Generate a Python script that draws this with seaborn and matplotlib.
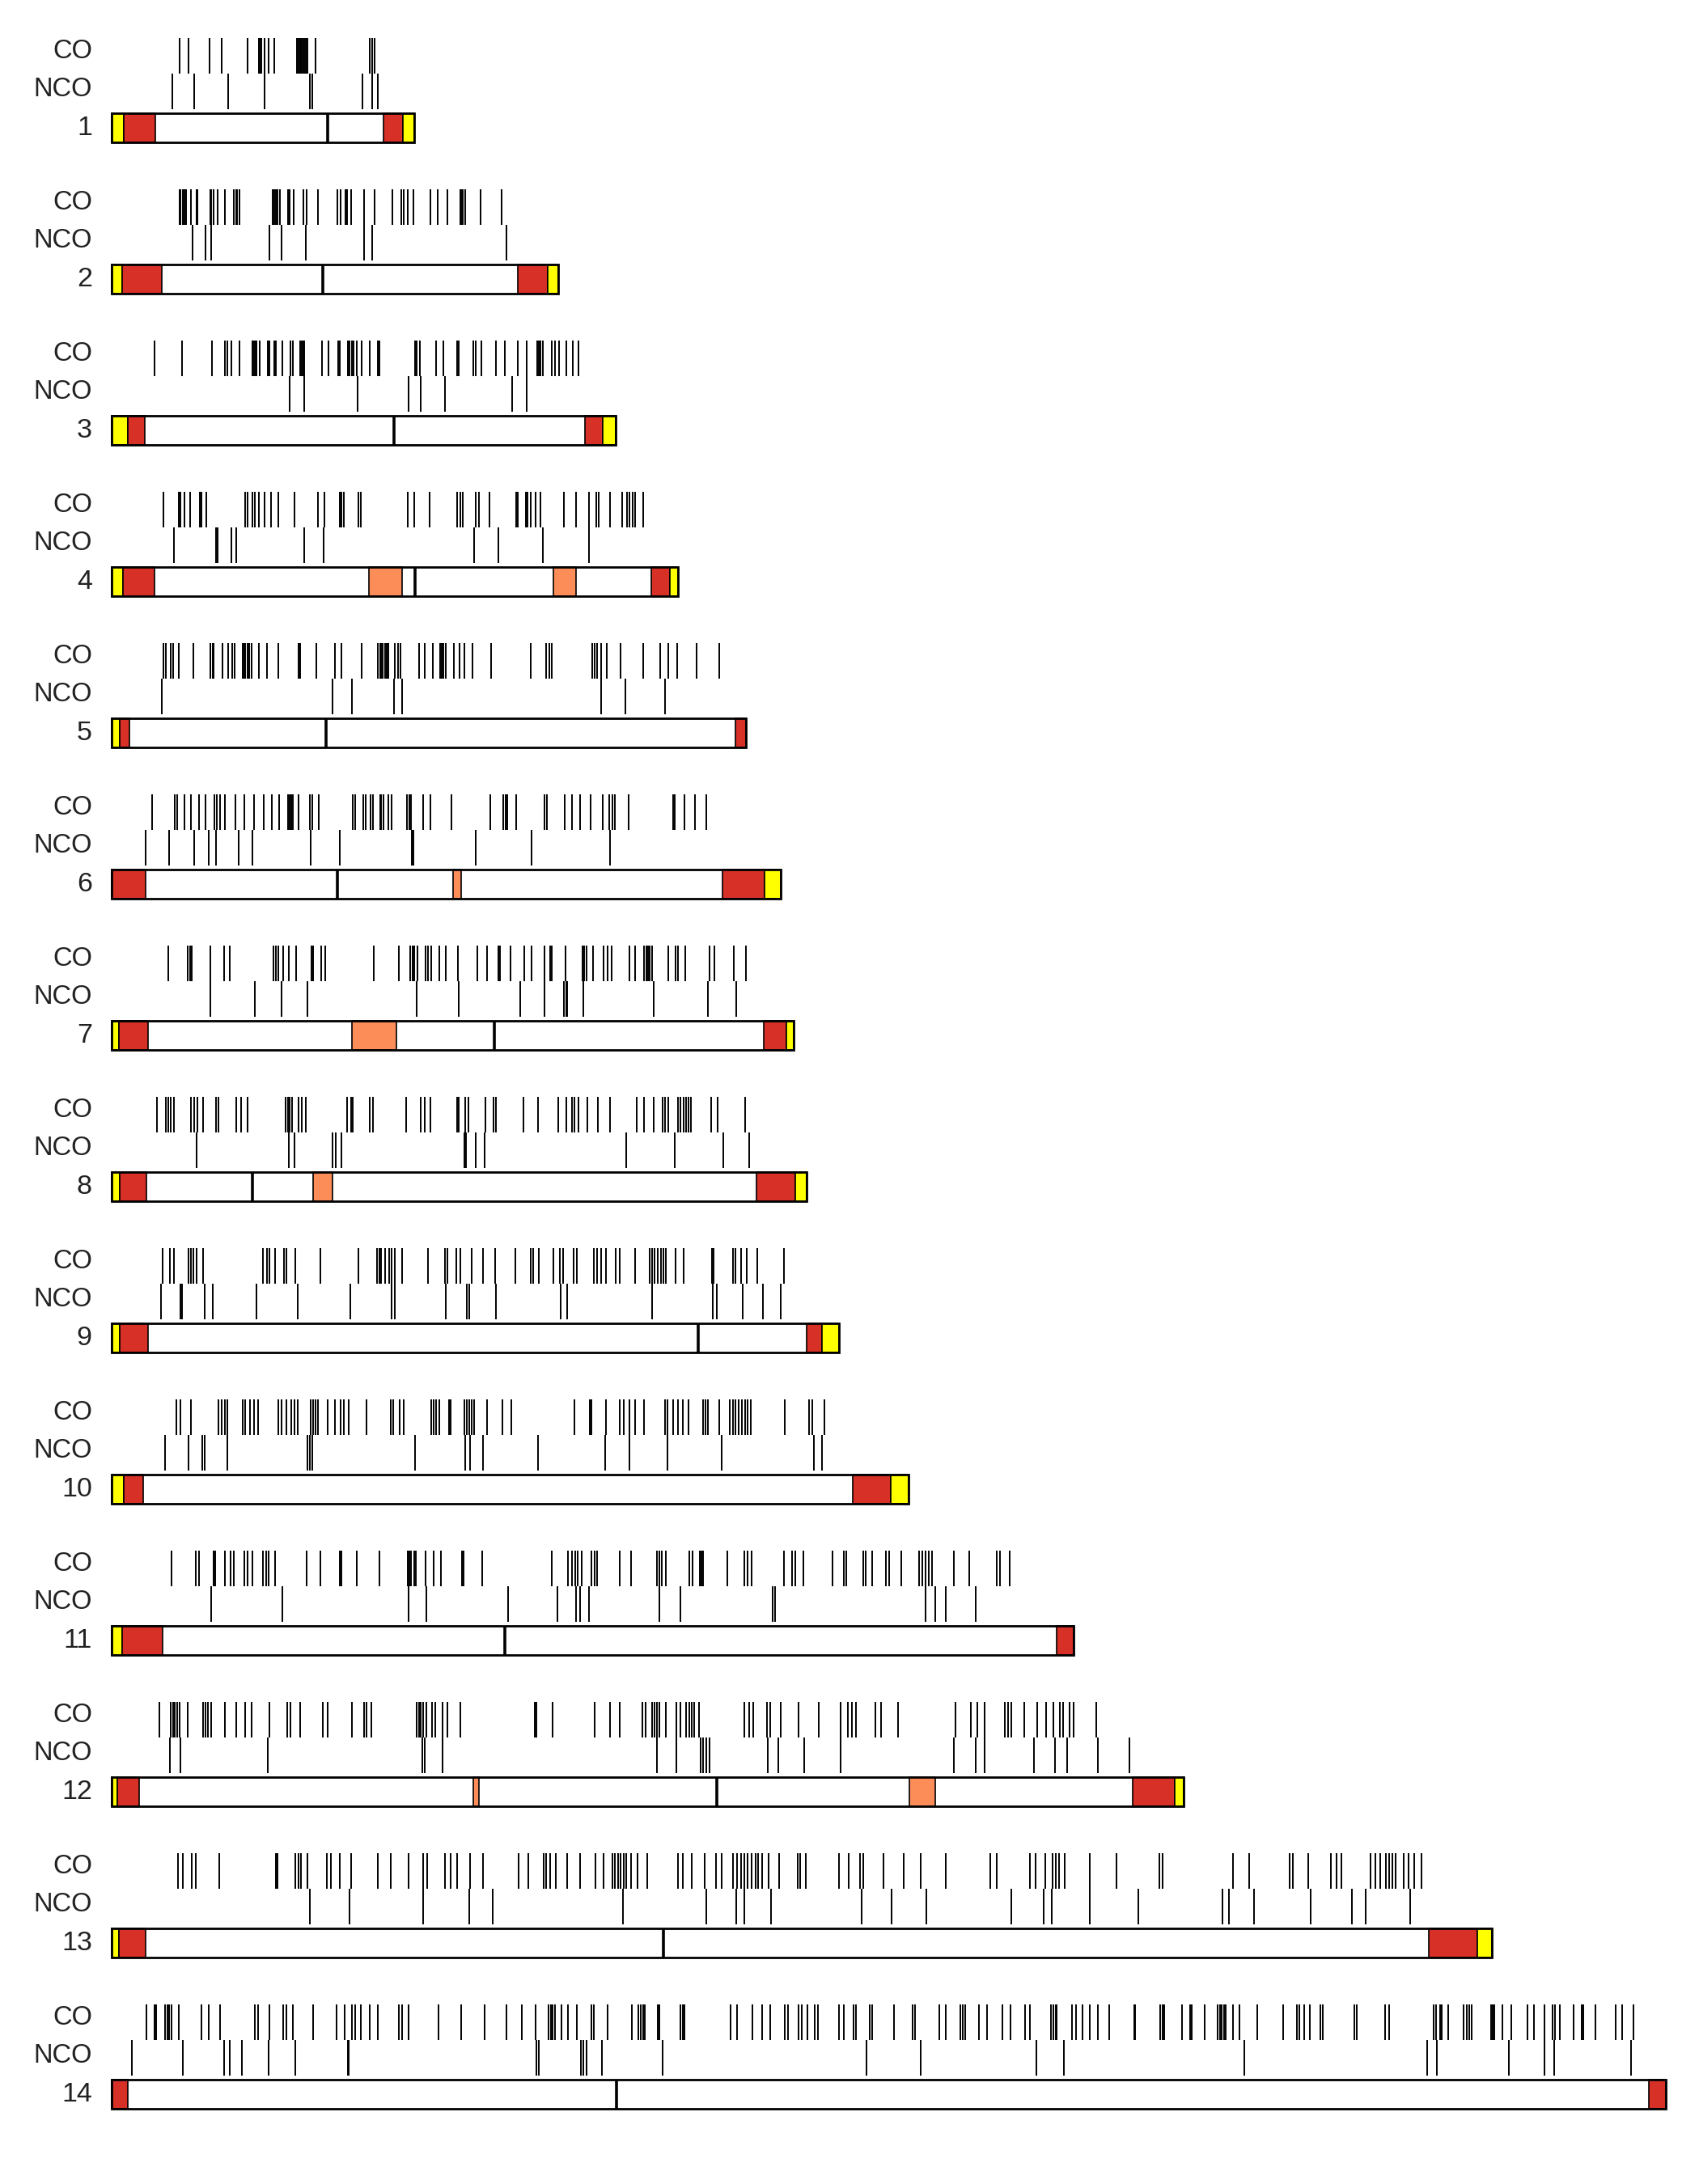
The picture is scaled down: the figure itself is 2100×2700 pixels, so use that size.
import pandas as pd
import matplotlib
matplotlib.use("Agg")
import matplotlib.pyplot as plt
import seaborn as sns

# chromosome lengths and centromeres (Mb)
chrom_names = [str(i) for i in range(1, 15)]
chrom_length = [0.641, 0.947, 1.068, 1.200, 1.344, 1.418, 1.445, 1.473, 1.542, 1.688, 2.038, 2.271, 2.925, 3.292]
centromere = [0.458, 0.448, 0.599, 0.643, 0.455, 0.478, 0.811, 0.299, 1.243, None, 0.833, 1.283, 1.170, 1.070]

# coloured blocks: tel = telomere, sub = subtelomeric, int = internal cluster
seg_1 = [("tel", 0.000, 0.027), ("sub", 0.027, 0.093), ("sub", 0.576, 0.617), ("tel", 0.617, 0.641)]
seg_2 = [("tel", 0.000, 0.022), ("sub", 0.022, 0.107), ("sub", 0.861, 0.925), ("tel", 0.925, 0.947)]
seg_3 = [("tel", 0.000, 0.034), ("sub", 0.034, 0.071), ("sub", 1.003, 1.041), ("tel", 1.041, 1.068)]
seg_4 = [("tel", 0.000, 0.025), ("sub", 0.025, 0.091), ("int", 0.546, 0.616), ("int", 0.936, 0.984),
         ("sub", 1.144, 1.183), ("tel", 1.183, 1.200)]
seg_5 = [("tel", 0.000, 0.018), ("sub", 0.018, 0.038), ("sub", 1.321, 1.344)]
seg_6 = [("sub", 0.000, 0.072), ("int", 0.724, 0.741), ("sub", 1.295, 1.384), ("tel", 1.384, 1.418)]
seg_7 = [("tel", 0.000, 0.016), ("sub", 0.016, 0.078), ("int", 0.509, 0.604), ("sub", 1.382, 1.429),
         ("tel", 1.429, 1.445)]
seg_8 = [("tel", 0.000, 0.018), ("sub", 0.018, 0.074), ("int", 0.427, 0.468), ("sub", 1.366, 1.448),
         ("tel", 1.448, 1.473)]
seg_9 = [("tel", 0.000, 0.017), ("sub", 0.017, 0.078), ("sub", 1.473, 1.506), ("tel", 1.506, 1.542)]
seg_10 = [("tel", 0.000, 0.026), ("sub", 0.026, 0.067), ("sub", 1.571, 1.651), ("tel", 1.651, 1.688)]
seg_11 = [("tel", 0.000, 0.022), ("sub", 0.022, 0.109), ("sub", 2.003, 2.038)]
seg_12 = [("tel", 0.000, 0.013), ("sub", 0.013, 0.059), ("int", 0.766, 0.779), ("int", 1.690, 1.746),
          ("sub", 2.163, 2.252), ("tel", 2.252, 2.271)]
seg_13 = [("tel", 0.000, 0.016), ("sub", 0.016, 0.073), ("sub", 2.790, 2.893), ("tel", 2.893, 2.925)]
seg_14 = [("sub", 0.000, 0.034), ("sub", 3.257, 3.292)]

# event positions (Mb)
co_1 = [0.145, 0.163, 0.208, 0.233, 0.288, 0.313, 0.316, 0.318, 0.324, 0.333, 0.345, 0.393, 0.396, 0.399,
        0.402, 0.405, 0.408, 0.411, 0.415, 0.432, 0.548, 0.552, 0.557]
nco_1 = [0.129, 0.176, 0.247, 0.324, 0.420, 0.426, 0.532, 0.552, 0.564]

co_2 = [0.144, 0.147, 0.151, 0.154, 0.158, 0.168, 0.180, 0.183, 0.209, 0.212, 0.216, 0.225, 0.241, 0.259,
        0.264, 0.267, 0.271, 0.342, 0.345, 0.348, 0.351, 0.357, 0.374, 0.377, 0.386, 0.406, 0.414, 0.438,
        0.478, 0.485, 0.496, 0.500, 0.508, 0.536, 0.557, 0.595, 0.614, 0.619, 0.628, 0.639, 0.675, 0.692,
        0.712, 0.739, 0.742, 0.745, 0.749, 0.782, 0.826]
nco_2 = [0.172, 0.199, 0.212, 0.334, 0.360, 0.411, 0.536, 0.552, 0.836]

co_3 = [0.091, 0.150, 0.213, 0.241, 0.245, 0.254, 0.272, 0.299, 0.302, 0.305, 0.308, 0.314, 0.332, 0.335,
        0.345, 0.349, 0.362, 0.379, 0.384, 0.399, 0.403, 0.406, 0.409, 0.446, 0.459, 0.481, 0.484, 0.501,
        0.505, 0.510, 0.513, 0.520, 0.530, 0.547, 0.565, 0.568, 0.644, 0.647, 0.653, 0.688, 0.704, 0.732,
        0.735, 0.767, 0.771, 0.783, 0.814, 0.834, 0.860, 0.879, 0.902, 0.906, 0.909, 0.914, 0.932, 0.939,
        0.948, 0.964, 0.977, 0.989]
nco_3 = [0.378, 0.408, 0.521, 0.629, 0.655, 0.706, 0.849, 0.879]

co_4 = [0.110, 0.142, 0.146, 0.155, 0.167, 0.188, 0.191, 0.201, 0.284, 0.288, 0.298, 0.303, 0.312, 0.325,
        0.338, 0.354, 0.388, 0.438, 0.452, 0.483, 0.488, 0.492, 0.523, 0.528, 0.627, 0.642, 0.674, 0.733,
        0.740, 0.744, 0.771, 0.779, 0.801, 0.857, 0.860, 0.878, 0.881, 0.889, 0.898, 0.909, 0.959, 0.985,
        1.012, 1.027, 1.032, 1.057, 1.082, 1.093, 1.098, 1.104, 1.110, 1.127]
nco_4 = [0.132, 0.222, 0.225, 0.254, 0.264, 0.408, 0.449, 0.768, 0.820, 0.914, 1.011]

co_5 = [0.111, 0.115, 0.126, 0.130, 0.143, 0.174, 0.210, 0.214, 0.217, 0.235, 0.247, 0.256, 0.261, 0.278,
        0.281, 0.284, 0.288, 0.291, 0.297, 0.312, 0.330, 0.353, 0.396, 0.399, 0.434, 0.474, 0.488, 0.530,
        0.564, 0.569, 0.572, 0.575, 0.579, 0.583, 0.587, 0.600, 0.608, 0.613, 0.651, 0.664, 0.681, 0.696,
        0.700, 0.704, 0.708, 0.726, 0.737, 0.747, 0.765, 0.805, 0.889, 0.920, 0.927, 0.932, 1.018, 1.023,
        1.029, 1.037, 1.049, 1.078, 1.127, 1.163, 1.179, 1.198, 1.240, 1.288]
nco_5 = [0.106, 0.469, 0.509, 0.599, 0.615, 1.037, 1.089, 1.173]

co_6 = [0.087, 0.135, 0.140, 0.154, 0.169, 0.185, 0.200, 0.219, 0.224, 0.230, 0.241, 0.263, 0.282, 0.302,
        0.323, 0.340, 0.356, 0.374, 0.378, 0.381, 0.384, 0.396, 0.420, 0.425, 0.440, 0.511, 0.517, 0.534,
        0.538, 0.549, 0.554, 0.569, 0.572, 0.577, 0.587, 0.594, 0.626, 0.631, 0.635, 0.661, 0.676, 0.721,
        0.803, 0.830, 0.835, 0.838, 0.857, 0.918, 0.922, 0.960, 0.975, 0.992, 1.015, 1.040, 1.055, 1.061,
        1.067, 1.096, 1.190, 1.193, 1.214, 1.237, 1.260]
nco_6 = [0.073, 0.123, 0.176, 0.206, 0.222, 0.270, 0.298, 0.422, 0.483, 0.636, 0.639, 0.771, 0.890, 1.056]

co_7 = [0.121, 0.162, 0.167, 0.171, 0.209, 0.239, 0.250, 0.344, 0.349, 0.354, 0.363, 0.376, 0.392, 0.423,
        0.428, 0.445, 0.453, 0.555, 0.609, 0.633, 0.638, 0.642, 0.648, 0.666, 0.670, 0.677, 0.695, 0.709,
        0.734, 0.776, 0.795, 0.819, 0.823, 0.845, 0.874, 0.890, 0.918, 0.929, 0.933, 0.962, 0.998, 1.002,
        1.007, 1.021, 1.043, 1.051, 1.059, 1.098, 1.110, 1.128, 1.133, 1.137, 1.141, 1.146, 1.179, 1.195,
        1.201, 1.215, 1.267, 1.277, 1.318, 1.344]
nco_7 = [0.210, 0.303, 0.361, 0.415, 0.647, 0.735, 0.866, 0.917, 0.958, 0.963, 0.966, 1.000, 1.148, 1.264,
         1.323]

co_8 = [0.097, 0.116, 0.120, 0.126, 0.132, 0.169, 0.175, 0.183, 0.195, 0.221, 0.227, 0.264, 0.274, 0.288,
        0.369, 0.374, 0.378, 0.382, 0.396, 0.404, 0.411, 0.499, 0.507, 0.511, 0.548, 0.554, 0.624, 0.655,
        0.663, 0.676, 0.732, 0.736, 0.750, 0.757, 0.792, 0.809, 0.814, 0.873, 0.903, 0.946, 0.964, 0.975,
        0.980, 0.990, 1.009, 1.031, 1.057, 1.112, 1.128, 1.149, 1.167, 1.172, 1.180, 1.201, 1.206, 1.212,
        1.217, 1.222, 1.228, 1.270, 1.285, 1.343]
nco_8 = [0.181, 0.375, 0.387, 0.469, 0.476, 0.488, 0.748, 0.752, 0.772, 0.790, 1.091, 1.193, 1.296, 1.351]

co_9 = [0.108, 0.124, 0.132, 0.163, 0.168, 0.174, 0.180, 0.195, 0.321, 0.329, 0.334, 0.347, 0.365, 0.370,
        0.389, 0.443, 0.524, 0.562, 0.567, 0.572, 0.579, 0.588, 0.594, 0.600, 0.615, 0.670, 0.706, 0.711,
        0.731, 0.740, 0.764, 0.788, 0.812, 0.856, 0.888, 0.893, 0.905, 0.937, 0.950, 0.957, 0.979, 0.986,
        1.022, 1.028, 1.037, 1.048, 1.068, 1.077, 1.109, 1.140, 1.145, 1.151, 1.158, 1.164, 1.170, 1.175,
        1.195, 1.213, 1.272, 1.276, 1.316, 1.321, 1.333, 1.346, 1.368, 1.425]
nco_9 = [0.105, 0.146, 0.149, 0.198, 0.214, 0.307, 0.394, 0.506, 0.593, 0.601, 0.708, 0.753, 0.758, 0.815,
         0.951, 0.966, 1.145, 1.274, 1.283, 1.337, 1.380, 1.418]

co_10 = [0.137, 0.146, 0.169, 0.227, 0.234, 0.240, 0.246, 0.278, 0.284, 0.294, 0.302, 0.310, 0.354, 0.360,
         0.371, 0.381, 0.388, 0.395, 0.422, 0.427, 0.432, 0.438, 0.458, 0.473, 0.485, 0.493, 0.503, 0.541,
         0.591, 0.597, 0.610, 0.620, 0.677, 0.682, 0.688, 0.695, 0.715, 0.719, 0.748, 0.753, 0.758, 0.764,
         0.769, 0.795, 0.828, 0.847, 0.981, 1.013, 1.016, 1.047, 1.077, 1.085, 1.097, 1.110, 1.129, 1.172,
         1.178, 1.190, 1.201, 1.211, 1.222, 1.254, 1.259, 1.264, 1.288, 1.310, 1.316, 1.322, 1.328, 1.335,
         1.342, 1.348, 1.354, 1.426, 1.477, 1.484, 1.510]
nco_10 = [0.113, 0.163, 0.192, 0.198, 0.245, 0.416, 0.421, 0.425, 0.643, 0.749, 0.759, 0.788, 0.904, 1.046,
          1.097, 1.178, 1.293, 1.488, 1.506]

co_11 = [0.128, 0.179, 0.186, 0.217, 0.220, 0.240, 0.253, 0.259, 0.281, 0.288, 0.298, 0.321, 0.327, 0.333,
         0.347, 0.414, 0.443, 0.483, 0.487, 0.520, 0.568, 0.627, 0.631, 0.635, 0.641, 0.645, 0.666, 0.683,
         0.698, 0.743, 0.746, 0.785, 0.932, 0.967, 0.975, 0.983, 0.988, 0.997, 1.017, 1.023, 1.029, 1.077,
         1.100, 1.156, 1.161, 1.166, 1.174, 1.224, 1.231, 1.246, 1.250, 1.254, 1.305, 1.340, 1.347, 1.356,
         1.424, 1.442, 1.448, 1.465, 1.528, 1.552, 1.557, 1.592, 1.597, 1.611, 1.640, 1.647, 1.674, 1.711,
         1.717, 1.725, 1.731, 1.738, 1.785, 1.818, 1.875, 1.882, 1.903]
nco_11 = [0.212, 0.362, 0.629, 0.667, 0.840, 0.945, 0.984, 0.993, 1.012, 1.160, 1.206, 1.401, 1.405, 1.725,
          1.746, 1.767, 1.831]

co_12 = [0.101, 0.125, 0.130, 0.135, 0.140, 0.145, 0.162, 0.194, 0.199, 0.204, 0.212, 0.241, 0.265, 0.284,
         0.297, 0.334, 0.373, 0.379, 0.400, 0.447, 0.458, 0.509, 0.535, 0.541, 0.551, 0.646, 0.651, 0.655,
         0.660, 0.667, 0.679, 0.686, 0.702, 0.712, 0.740, 0.896, 0.901, 0.935, 1.023, 1.057, 1.076, 1.124,
         1.131, 1.145, 1.150, 1.155, 1.161, 1.174, 1.197, 1.205, 1.218, 1.224, 1.229, 1.235, 1.245, 1.341,
         1.351, 1.359, 1.389, 1.396, 1.417, 1.455, 1.499, 1.545, 1.560, 1.569, 1.577, 1.619, 1.630, 1.666,
         1.788, 1.821, 1.834, 1.850, 1.892, 1.899, 1.907, 1.934, 1.961, 1.980, 1.995, 2.009, 2.016, 2.029,
         2.038, 2.086]
nco_12 = [0.124, 0.146, 0.331, 0.658, 0.663, 0.702, 1.156, 1.196, 1.248, 1.254, 1.261, 1.267, 1.391, 1.413,
          1.468, 1.545, 1.784, 1.831, 1.849, 1.955, 1.998, 2.024, 2.090, 2.156]

co_13 = [0.141, 0.152, 0.170, 0.178, 0.228, 0.348, 0.352, 0.390, 0.396, 0.402, 0.416, 0.457, 0.465, 0.483,
         0.507, 0.564, 0.592, 0.630, 0.661, 0.669, 0.707, 0.719, 0.733, 0.760, 0.788, 0.863, 0.883, 0.915,
         0.921, 0.929, 0.941, 0.966, 0.992, 1.026, 1.042, 1.061, 1.067, 1.073, 1.079, 1.085, 1.091, 1.101,
         1.115, 1.135, 1.200, 1.210, 1.230, 1.257, 1.281, 1.293, 1.317, 1.325, 1.333, 1.341, 1.348, 1.356,
         1.364, 1.370, 1.378, 1.392, 1.414, 1.453, 1.459, 1.471, 1.541, 1.562, 1.586, 1.592, 1.636, 1.679,
         1.715, 1.768, 1.861, 1.875, 1.946, 1.958, 1.978, 1.994, 2.000, 2.008, 2.020, 2.073, 2.129, 2.220,
         2.226, 2.376, 2.410, 2.495, 2.503, 2.535, 2.584, 2.596, 2.606, 2.667, 2.677, 2.687, 2.699, 2.707,
         2.713, 2.721, 2.737, 2.748, 2.760, 2.776]
nco_13 = [0.420, 0.505, 0.661, 0.758, 0.808, 1.083, 1.261, 1.323, 1.341, 1.398, 1.590, 1.653, 1.727, 1.907,
          1.974, 1.992, 2.073, 2.176, 2.354, 2.368, 2.420, 2.541, 2.628, 2.657, 2.752]

co_14 = [0.075, 0.091, 0.094, 0.113, 0.118, 0.123, 0.127, 0.143, 0.190, 0.206, 0.231, 0.304, 0.310, 0.335,
         0.364, 0.371, 0.384, 0.428, 0.477, 0.494, 0.509, 0.517, 0.529, 0.547, 0.564, 0.609, 0.615, 0.630,
         0.693, 0.741, 0.790, 0.836, 0.870, 0.899, 0.926, 0.931, 0.935, 0.940, 0.953, 0.967, 0.986, 1.017,
         1.022, 1.051, 1.103, 1.117, 1.121, 1.126, 1.130, 1.158, 1.161, 1.205, 1.211, 1.214, 1.311, 1.326,
         1.358, 1.378, 1.395, 1.426, 1.434, 1.455, 1.463, 1.474, 1.489, 1.496, 1.542, 1.552, 1.572, 1.577,
         1.606, 1.611, 1.657, 1.697, 1.703, 1.754, 1.768, 1.798, 1.803, 1.809, 1.837, 1.854, 1.887, 1.905,
         1.935, 1.945, 1.991, 1.995, 2.000, 2.003, 2.034, 2.044, 2.057, 2.073, 2.089, 2.114, 2.166, 2.169,
         2.222, 2.226, 2.231, 2.268, 2.285, 2.289, 2.316, 2.344, 2.348, 2.352, 2.357, 2.360, 2.375, 2.389,
         2.427, 2.482, 2.511, 2.517, 2.526, 2.538, 2.561, 2.566, 2.633, 2.638, 2.698, 2.706, 2.801, 2.806,
         2.815, 2.818, 2.832, 2.865, 2.871, 2.876, 2.882, 2.922, 2.926, 2.930, 2.947, 2.965, 3.000, 3.013,
         3.035, 3.052, 3.058, 3.068, 3.098, 3.114, 3.118, 3.143, 3.186, 3.200, 3.225]
nco_14 = [0.044, 0.152, 0.239, 0.251, 0.276, 0.333, 0.389, 0.501, 0.503, 0.900, 0.905, 0.995, 1.000, 1.007,
          1.039, 1.167, 1.600, 1.714, 1.959, 2.017, 2.399, 2.788, 2.807, 2.961, 3.035, 3.056, 3.219]

co_sites = [co_1, co_2, co_3, co_4, co_5, co_6, co_7, co_8, co_9, co_10, co_11, co_12, co_13, co_14]
nco_sites = [nco_1, nco_2, nco_3, nco_4, nco_5, nco_6, nco_7, nco_8, nco_9, nco_10, nco_11, nco_12,
             nco_13, nco_14]
segments = [seg_1, seg_2, seg_3, seg_4, seg_5, seg_6, seg_7, seg_8, seg_9, seg_10, seg_11, seg_12,
            seg_13, seg_14]

# long table of events
records = []
for i, (co, nco) in enumerate(zip(co_sites, nco_sites), start=1):
    records += [(i, "CO", p) for p in co]
    records += [(i, "NCO", p) for p in nco]
events = pd.DataFrame(records, columns=["chrom", "kind", "pos"])

# layout (row units: one chromosome per row)
row_offset = {"CO": -0.479, "NCO": -0.241}
bar_h = 0.193
events["y"] = events["chrom"] + events["kind"].map(row_offset)

seg_colors = {"tel": "#FFFF00", "sub": "#D73027", "int": "#FC8D59"}

sns.set_theme(style="white")
plt.rcParams["font.family"] = ["Liberation Sans", "DejaVu Sans"]

fig = plt.figure(figsize=(21, 27), dpi=100)
ax = fig.add_axes([0, 0, 1, 1])

sns.scatterplot(data=events, x="pos", y="y", marker="|", s=32 ** 2, linewidth=1.4,
                color="black", ax=ax, legend=False)

for i in range(1, 15):
    length = chrom_length[i - 1]
    ax.barh(i, length, left=0, height=bar_h, color="white", edgecolor="none", zorder=2)
    for kind, start, end in segments[i - 1]:
        ax.barh(i, end - start, left=start, height=bar_h, color=seg_colors[kind],
                edgecolor="black", linewidth=1.2, zorder=3)
    cen = centromere[i - 1]
    if cen is not None:
        ax.vlines(cen, i - bar_h / 2, i + bar_h / 2, color="black", linewidth=2.6, zorder=4)
    ax.barh(i, length, left=0, height=bar_h, fill=False, edgecolor="black", linewidth=2.0, zorder=5)

    ax.text(-0.041, i - 0.506, "CO", ha="right", va="center", fontsize=23.5, color="#222222")
    ax.text(-0.041, i - 0.258, "NCO", ha="right", va="center", fontsize=23.5, color="#222222")
    ax.text(-0.041, i, chrom_names[i - 1], ha="right", va="center", fontsize=24.5, color="#222222")

ax.set_xlim(-0.236, 3.363)
ax.set_ylim(14.592, 0.153)
ax.set_axis_off()

fig.savefig("out.png", dpi=100, facecolor="white")
